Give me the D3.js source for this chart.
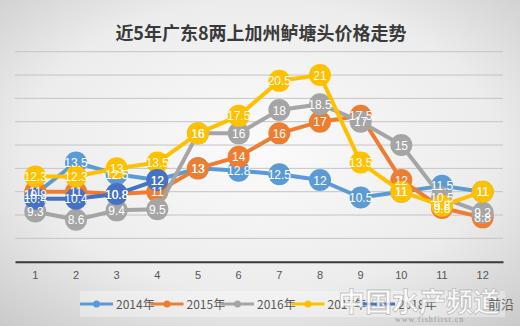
<!DOCTYPE html>
<html><head><meta charset="utf-8">
<script src="https://cdn.jsdelivr.net/npm/d3@7"></script>
<style>body{margin:0;overflow:hidden}svg{display:block}</style>
</head><body>
<svg id="c" width="520" height="326"></svg>
<script>
const months = ["1","2","3","4","5","6","7","8","9","10","11","12"];
const years = ["2014年","2015年","2016年","2017年","2018年"];
const s2014 = [10.8, 13.5, 12.5, 12, 13, 12.8, 12.5, 12, 10.5, 11, 11.5, 11];
const s2015 = [11, 11, 10.8, 11, 13, 14, 16, 17, 17.5, 12, 9.6, 8.8];
const s2016 = [9.3, 8.6, 9.4, 9.5, 16, 16, 18, 18.5, 17, 15, 10.5, 9.2];
const s2017 = [12.3, 12.3, 13, 13.5, 16, 17.5, 20.5, 21, 13.5, 11, 9.8, 11];
const s2018 = [10.4, 10.4, 10.8, 12, null, null, null, null, null, null, null, null];
const yTicks = [5,7,9,11,13,15,17,19,21,23];
const colors = ["#5B9BD5","#ED7D31","#A5A5A5","#FFC000","#4472C4"];
const seriesVals = [s2014, s2015, s2016, s2017, s2018];

const svg = d3.select("#c");
const defs = svg.append("defs");
const rg = defs.append("radialGradient").attr("id","bg").attr("cx","50%").attr("cy","45%").attr("r","75%");
rg.append("stop").attr("offset","0%").attr("stop-color","#fbfbfb");
rg.append("stop").attr("offset","60%").attr("stop-color","#ececec");
rg.append("stop").attr("offset","100%").attr("stop-color","#c9c9c9");
svg.append("rect").attr("width",520).attr("height",326).attr("fill","url(#bg)");

svg.append("text").attr("x",261).attr("y",40).attr("text-anchor","middle")
  .attr("font-family","Noto Sans CJK SC").attr("font-size",18).attr("font-weight","bold")
  .attr("fill","#3a3a3a").text("近5年广东8两上加州鲈塘头价格走势");

const x = d3.scaleBand().domain(months).range([15, 503]);
const y = d3.scaleLinear().domain([5, 23]).range([261.7, 51.7]);

// gridlines
svg.append("g").selectAll("line").data(yTicks.slice(1)).join("line")
  .attr("x1",15).attr("x2",503).attr("y1",d=>y(d)).attr("y2",d=>y(d))
  .attr("stroke","#c4c4c4").attr("stroke-width",1);

// x axis
const xa = svg.append("g").attr("transform",`translate(0,${y(5)})`)
  .call(d3.axisBottom(x).tickSize(0).tickPadding(10));
xa.select(".domain").attr("stroke","#3a3a3a").attr("stroke-width",2);
xa.selectAll("text").attr("font-family","Liberation Sans").attr("font-size",11).attr("fill","#555");

const cx = d => x(d) + x.bandwidth()/2;
const line = d3.line().defined(d=>d.v!=null).x(d=>cx(d.m)).y(d=>y(d.v));

const data = seriesVals.map((vals,i)=>({i, pts: months.map((m,j)=>({m, v: vals[j]}))}));

data.forEach(s=>{
  const g = svg.append("g");
  g.append("path").datum(s.pts).attr("d",line).attr("fill","none")
    .attr("stroke",colors[s.i]).attr("stroke-width",4).attr("stroke-linejoin","round");
  g.selectAll("circle").data(s.pts.filter(d=>d.v!=null)).join("circle")
    .attr("cx",d=>cx(d.m)).attr("cy",d=>y(d.v)).attr("r",11).attr("fill",colors[s.i]);
});
data.forEach(s=>{
  svg.append("g").selectAll("text").data(s.pts.filter(d=>d.v!=null)).join("text")
    .attr("x",d=>cx(d.m)).attr("y",d=>y(d.v)+4.5).attr("text-anchor","middle")
    .attr("font-family","Liberation Sans").attr("font-size",12).attr("fill","#fff")
    .text(d=>d.v);
});

// legend
svg.append("rect").attr("x",80).attr("y",291).attr("width",425).attr("height",26)
  .attr("fill","#fff").attr("opacity",0.35);
const lg = svg.append("g").selectAll("g").data(years).join("g")
  .attr("transform",(d,i)=>`translate(${80+i*70.5},304)`);
lg.append("line").attr("x1",0).attr("x2",33).attr("stroke",(d,i)=>colors[i]).attr("stroke-width",3);
lg.append("circle").attr("cx",16.5).attr("r",3.5).attr("fill",(d,i)=>colors[i]);
lg.append("text").attr("x",36).attr("y",4.5).attr("font-family","Noto Sans CJK SC")
  .attr("font-size",12).attr("fill","#595959").text(d=>d);

// watermark
svg.append("text").attr("x",338).attr("y",312).attr("font-family","Noto Sans CJK SC")
  .attr("font-size",27).attr("font-weight","bold").attr("fill","#fff").attr("fill-opacity",0.85)
  .attr("stroke","#999").attr("stroke-width",0.8).attr("stroke-opacity",0.6).text("中国水产频道");
svg.append("text").attr("x",488).attr("y",309).attr("font-family","Noto Sans CJK SC")
  .attr("font-size",13).attr("fill","#666").text("前沿");
svg.append("text").attr("x",395).attr("y",322).attr("font-family","Liberation Serif")
  .attr("font-size",8).attr("fill","#999").attr("letter-spacing",1).text("www.fishfirst.cn");
</script>
</body></html>
